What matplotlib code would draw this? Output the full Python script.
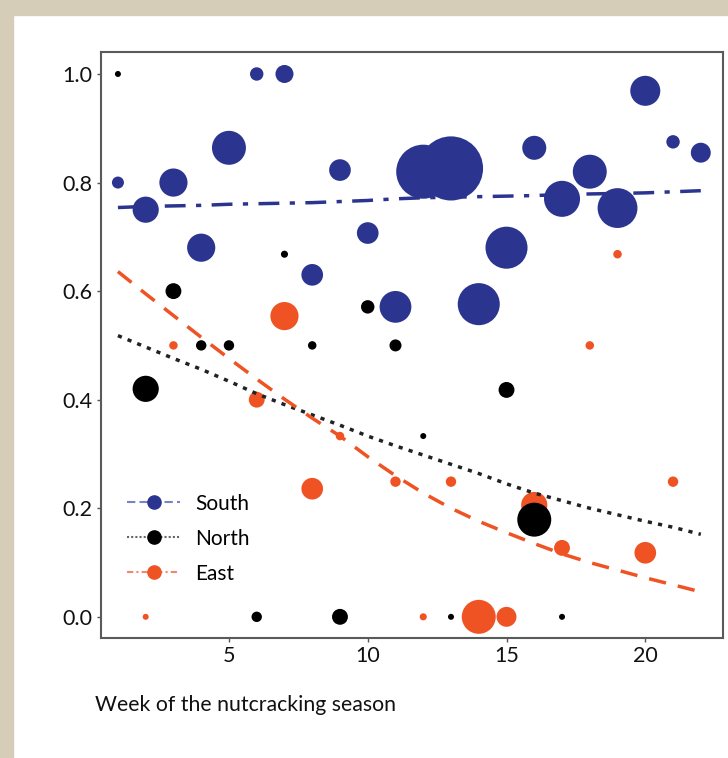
import matplotlib
matplotlib.use("Agg")
import matplotlib.pyplot as plt
from matplotlib.lines import Line2D
from matplotlib.patches import Rectangle

plt.rcParams['font.family'] = ['Lato', 'DejaVu Sans']

# proportion of nutcracking per week, bubble size = number of observations
weeks = list(range(1, 23))

south_weeks = weeks
south_prop = [0.80, 0.75, 0.80, 0.68, 0.864, 1.0, 1.0, 0.63, 0.823, 0.707, 0.571,
              0.82, 0.826, 0.576, 0.68, 0.864, 0.77, 0.82, 0.753, 0.969, 0.875, 0.855]
south_n = [4, 19, 22, 22, 32, 5, 9, 13, 13, 13, 28, 81, 114, 49, 49, 16, 36, 32, 44, 25, 5, 11]

north_weeks = [1, 2, 3, 4, 5, 6, 7, 8, 9, 10, 11, 12, 13, 15, 16, 17]
north_prop = [1.0, 0.42, 0.6, 0.5, 0.5, 0.0, 0.668, 0.5, 0.0, 0.571, 0.5, 0.333, 0.0, 0.418, 0.179, 0.0]
north_n = [1, 19, 7, 3, 3, 3, 1.4, 2, 7, 5, 4, 1, 1, 7, 32, 1]

east_weeks = [2, 3, 5, 6, 7, 8, 9, 11, 12, 13, 14, 15, 16, 17, 18, 19, 20, 21]
east_prop = [0.0, 0.5, 0.5, 0.4, 0.554, 0.236, 0.333, 0.249, 0.0, 0.249, 0.0, 0.0,
             0.206, 0.127, 0.5, 0.668, 0.118, 0.249]
east_n = [1, 2, 2, 7, 22, 13, 2, 3, 1.4, 3, 32, 11, 19, 7, 2, 2, 13, 3]

# fitted trends
south_fit = [0.754, 0.756, 0.757, 0.758, 0.760, 0.761, 0.762, 0.763, 0.765, 0.767, 0.770,
             0.772, 0.773, 0.774, 0.775, 0.776, 0.778, 0.779, 0.780, 0.781, 0.783, 0.785]
north_fit = [0.518, 0.497, 0.476, 0.456, 0.434, 0.411, 0.391, 0.372, 0.353, 0.333, 0.315,
             0.298, 0.281, 0.264, 0.245, 0.228, 0.214, 0.200, 0.188, 0.176, 0.165, 0.152]
east_fit = [0.636, 0.595, 0.555, 0.515, 0.476, 0.438, 0.401, 0.366, 0.333, 0.295, 0.260,
            0.228, 0.200, 0.176, 0.155, 0.135, 0.116, 0.100, 0.086, 0.072, 0.059, 0.046]

blue = '#2b3590'
red = '#ef5324'
black = '#000000'
size_k = 18.7

fig = plt.figure(figsize=(7.28, 7.58), dpi=100)
fig.patch.set_facecolor('white')
beige = '#d6cdb9'
fig.patches.append(Rectangle((0, 0), 13 / 728, 1, transform=fig.transFigure, color=beige, zorder=0))
fig.patches.append(Rectangle((0, 1 - 15 / 758), 1, 15 / 758, transform=fig.transFigure, color=beige, zorder=0))

ax = fig.add_axes([101 / 728, 1 - 638 / 758, 622 / 728, 586 / 758])

ax.scatter(south_weeks, south_prop, s=[n * size_k for n in south_n], color=blue, linewidths=0, zorder=2)
ax.scatter(east_weeks, east_prop, s=[n * size_k for n in east_n], color=red, linewidths=0, zorder=2)
ax.scatter(north_weeks, north_prop, s=[n * size_k for n in north_n], color=black, linewidths=0, zorder=2)

ax.plot(weeks, south_fit, color=blue, lw=2.5, linestyle=(0, (6, 3, 1.5, 3)), zorder=3)
ax.plot(weeks, north_fit, color='#222222', lw=2.5, linestyle=(0, (1.2, 1.8)), zorder=3)
ax.plot(weeks, east_fit, color=red, lw=2.5, linestyle=(0, (5, 3.5)), zorder=3)

ax.set_xlim(0.39, 22.8)
ax.set_ylim(-0.039, 1.0405)
ax.set_xticks([5, 10, 15, 20])
ax.set_yticks([0.0, 0.2, 0.4, 0.6, 0.8, 1.0])
ax.set_yticklabels(['0.0', '0.2', '0.4', '0.6', '0.8', '1.0'])
ax.tick_params(labelsize=15.5, length=3, width=1, color='#555555', labelcolor='#111111', pad=3)
for sp in ax.spines.values():
    sp.set_color('#5a5a5a')
    sp.set_linewidth(1.5)

handles = [
    Line2D([], [], color='#7a82c8', lw=1.5, linestyle=(0, (4, 2)), marker='o',
           markersize=9.5, markerfacecolor=blue, markeredgecolor=blue),
    Line2D([], [], color='#666666', lw=1.5, linestyle=(0, (1, 1)), marker='o',
           markersize=9.5, markerfacecolor=black, markeredgecolor=black),
    Line2D([], [], color='#f08a6c', lw=1.5, linestyle=(0, (3, 1.5, 1, 1.5)), marker='o',
           markersize=9.5, markerfacecolor=red, markeredgecolor=red),
]
ax.legend(handles, ['South', 'North', 'East'], loc='lower left', bbox_to_anchor=(0.025, 0.075),
          frameon=False, fontsize=15, handlelength=2.55, handletextpad=0.72, labelspacing=0.72,
          borderpad=0)

fig.text(95 / 728, 1 - 705 / 758, 'Week of the nutcracking season', fontsize=15.3,
         ha='left', va='center', color='#111111')

fig.savefig('out.png', dpi=100)
